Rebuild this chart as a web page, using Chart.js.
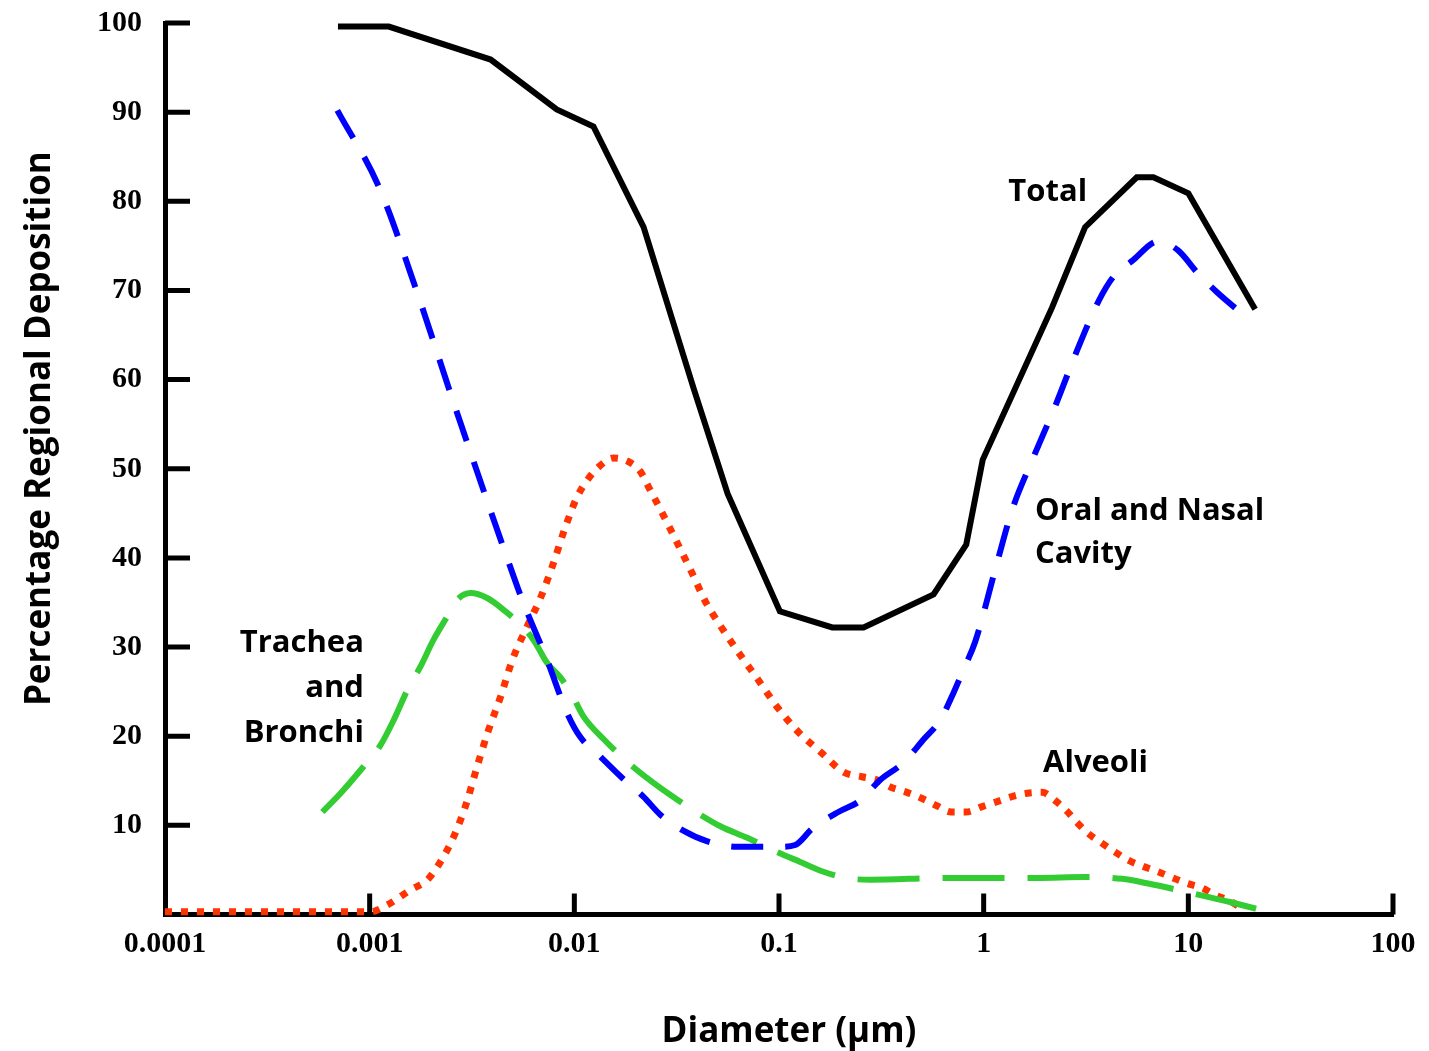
<!DOCTYPE html>
<html>
<head>
<meta charset="utf-8">
<script src="https://cdn.jsdelivr.net/npm/chart.js@4.4.1/dist/chart.umd.min.js"></script>
<style>
  html, body { margin: 0; padding: 0; background: #fff; }
  #wrap { width: 1429px; height: 1051px; position: relative; }
</style>
</head>
<body>
<div id="wrap"><canvas id="deposition"></canvas></div>
<script>
// regional deposition (%) against particle diameter (um)
const totalX = [0.0007, 0.00124, 0.0039, 0.0082, 0.0124, 0.0218, 0.0383, 0.0561, 0.101, 0.182, 0.259, 0.569, 0.822, 0.989, 2.16, 3.13, 5.6, 6.75, 10.0, 21.2];
const totalY = [99.6, 99.6, 95.9, 90.3, 88.4, 77.1, 59.0, 47.2, 34.0, 32.2, 32.2, 35.9, 41.5, 51.0, 68.1, 77.1, 82.7, 82.7, 80.9, 67.9];

const oralX = [0.000695, 0.00111, 0.00171, 0.00253, 0.00375, 0.00461, 0.00556, 0.00737, 0.00922, 0.0107, 0.0134, 0.0168, 0.0218, 0.0263, 0.0341, 0.0447, 0.0626, 0.1015, 0.120, 0.145, 0.195, 0.250, 0.312, 0.404, 0.507, 0.613, 0.710, 0.794, 0.909, 1.164, 1.378, 1.744, 2.234, 2.829, 3.624, 4.289, 5.37, 7.11, 8.91, 11.15, 13.81, 17.88, 20.5];
const oralY = [90.2, 81.6, 69.7, 57.9, 46.4, 40.5, 35.3, 28.5, 22.6, 19.9, 17.7, 15.5, 13.2, 11.2, 9.4, 8.2, 7.6, 7.6, 7.8, 9.6, 11.5, 12.8, 15.1, 17.0, 19.6, 21.8, 24.8, 27.4, 30.6, 39.5, 45.4, 51.2, 57.0, 63.0, 68.7, 71.5, 73.4, 75.5, 74.5, 71.9, 69.8, 67.6, 66.5];

const tracheaX = [0.000587, 0.000721, 0.000934, 0.00113, 0.00131, 0.00153, 0.00177, 0.00205, 0.00239, 0.00268, 0.00311, 0.00375, 0.00461, 0.00546, 0.00632, 0.00737, 0.00855, 0.00976, 0.0111, 0.0140, 0.0182, 0.0227, 0.0295, 0.0399, 0.0517, 0.0700, 0.0981, 0.127, 0.165, 0.211, 0.279, 0.664, 1.82, 3.13, 4.75, 6.28, 12.3, 16.0, 24.5];
const tracheaY = [11.5, 13.6, 16.6, 19.0, 21.8, 25.2, 27.8, 30.8, 33.4, 35.3, 36.05, 35.5, 34.0, 32.5, 30.8, 28.2, 26.6, 24.6, 22.2, 19.6, 17.1, 15.3, 13.4, 11.4, 9.9, 8.6, 7.0, 5.9, 4.8, 4.1, 3.9, 4.1, 4.1, 4.2, 4.0, 3.5, 2.0, 1.4, 0.3];

const alveoliX = [0.0001, 0.00101, 0.00122, 0.00158, 0.00191, 0.00214, 0.00235, 0.00257, 0.00278, 0.0030, 0.00335, 0.00381, 0.00436, 0.00497, 0.00588, 0.00683, 0.0079, 0.00905, 0.0103, 0.01155, 0.01315, 0.0155, 0.0184, 0.021, 0.023, 0.0249, 0.0272, 0.0318, 0.0376, 0.0437, 0.0527, 0.0647, 0.0792, 0.0978, 0.124, 0.162, 0.206, 0.254, 0.301, 0.350, 0.422, 0.507, 0.591, 0.694, 0.821, 0.983, 1.16, 1.36, 1.63, 1.93, 2.23, 2.55, 2.86, 3.24, 3.78, 4.39, 5.08, 6.01, 7.11, 8.42, 9.82, 11.6, 13.5, 16.3, 18.9];
const alveoliY = [0.3, 0.3, 1.07, 2.75, 3.87, 5.36, 6.9, 8.7, 10.6, 12.8, 16.6, 20.7, 24.4, 28.5, 32.3, 35.5, 39.4, 43.5, 46.8, 48.7, 50.2, 51.2, 50.8, 49.7, 48.0, 46.5, 44.8, 41.7, 38.3, 35.1, 32.1, 29.1, 26.3, 23.3, 20.5, 18.1, 16.0, 15.45, 15.1, 14.3, 13.7, 12.95, 12.2, 11.5, 11.5, 12.1, 12.65, 13.2, 13.6, 13.7, 12.8, 11.6, 10.3, 9.1, 8.0, 7.0, 6.1, 5.4, 4.8, 4.1, 3.5, 3.0, 2.2, 1.4, 0.4];

const xTickValues = [0.0001, 0.001, 0.01, 0.1, 1, 10, 100];
const xTickLabels = ['0.0001', '0.001', '0.01', '0.1', '1', '10', '100'];
const yTickValues = [10, 20, 30, 40, 50, 60, 70, 80, 90, 100];

function toPoints(xs, ys) {
  return xs.map((x, i) => ({ x: x, y: ys[i] }));
}

const tickFont = { family: 'Liberation Serif', size: 30, weight: 'bold' };

// curve names, anchored in data units (left or right edge, baseline)
const notes = [
  { text: 'Total', x: 1.32, y: 80.0, align: 'left' },
  { text: 'Oral and Nasal', x: 1.78, y: 44.2, align: 'left' },
  { text: 'Cavity', x: 1.78, y: 39.4, align: 'left' },
  { text: 'Alveoli', x: 1.95, y: 16.0, align: 'left' },
  { text: 'Trachea', x: 0.000937, y: 29.5, align: 'right' },
  { text: 'and', x: 0.000937, y: 24.4, align: 'right' },
  { text: 'Bronchi', x: 0.000937, y: 19.3, align: 'right' }
];

// inward tick marks, curve names and axis titles
const decorations = {
  id: 'decorations',
  afterDraw(chart) {
    const ctx = chart.ctx;
    const area = chart.chartArea;
    const xs = chart.scales.x;
    const ys = chart.scales.y;
    ctx.save();
    ctx.strokeStyle = '#000';
    ctx.lineWidth = 5;
    ctx.beginPath();
    yTickValues.forEach(v => {
      const py = ys.getPixelForValue(v);
      ctx.moveTo(area.left, py);
      ctx.lineTo(area.left + 25, py);
    });
    xTickValues.slice(1).forEach(v => {
      const px = xs.getPixelForValue(v);
      ctx.moveTo(px, area.bottom);
      ctx.lineTo(px, area.bottom - 21);
    });
    ctx.stroke();

    ctx.fillStyle = '#000';
    ctx.font = "bold 31px 'Open Sans'";
    ctx.textBaseline = 'alphabetic';
    notes.forEach(n => {
      ctx.textAlign = n.align;
      ctx.fillText(n.text, xs.getPixelForValue(n.x), ys.getPixelForValue(n.y));
    });

    ctx.textAlign = 'center';
    ctx.font = "bold 35px 'Open Sans'";
    ctx.fillText('Diameter (µm)', (area.left + area.right) / 2 + 10, area.bottom + 127);

    ctx.translate(50, area.top + (area.bottom - area.top) * 0.455);
    ctx.rotate(-Math.PI / 2);
    ctx.font = "bold 35px 'Open Sans'";
    ctx.fillText('Percentage Regional Deposition', 0, 0);
    ctx.restore();
  }
};

const lineDefaults = {
  pointRadius: 0,
  fill: false,
  clip: false,
  borderCapStyle: 'butt'
};

new Chart(document.getElementById('deposition'), {
  type: 'line',
  data: {
    datasets: [
      Object.assign({
        label: 'Total',
        data: toPoints(totalX, totalY),
        borderColor: '#000000',
        borderWidth: 6,
        tension: 0
      }, lineDefaults),
      Object.assign({
        label: 'Oral and Nasal Cavity',
        data: toPoints(oralX, oralY),
        borderColor: '#0000ff',
        borderWidth: 6,
        borderDash: [32, 22],
        cubicInterpolationMode: 'monotone'
      }, lineDefaults),
      Object.assign({
        label: 'Trachea and Bronchi',
        data: toPoints(tracheaX, tracheaY),
        borderColor: '#33cc33',
        borderWidth: 6,
        borderDash: [62, 23],
        cubicInterpolationMode: 'monotone'
      }, lineDefaults),
      Object.assign({
        label: 'Alveoli',
        data: toPoints(alveoliX, alveoliY),
        borderColor: '#ff3300',
        borderWidth: 7,
        borderDash: [7, 9],
        cubicInterpolationMode: 'monotone'
      }, lineDefaults)
    ]
  },
  plugins: [decorations],
  options: {
    responsive: true,
    maintainAspectRatio: false,
    animation: false,
    layout: { padding: { top: 23, right: 36, left: 0, bottom: 0 } },
    plugins: {
      legend: { display: false },
      tooltip: { enabled: false }
    },
    scales: {
      x: {
        type: 'logarithmic',
        min: 0.0001,
        max: 100,
        afterBuildTicks: function(scale) {
          scale.ticks = xTickValues.map(v => ({ value: v }));
        },
        afterFit: function(scale) {
          scale.height = 136.5;
        },
        grid: { display: false, drawTicks: false },
        border: { display: true, color: '#000', width: 5 },
        ticks: {
          autoSkip: false,
          maxRotation: 0,
          color: '#000',
          font: tickFont,
          padding: 12,
          callback: function(value, index) {
            return xTickLabels[index];
          }
        }
      },
      y: {
        min: 0,
        max: 100,
        afterBuildTicks: function(scale) {
          scale.ticks = yTickValues.map(v => ({ value: v }));
        },
        afterFit: function(scale) {
          scale.width = 165;
          // the 100 label may overhang the top; let layout padding decide
          scale.paddingTop = 0;
          scale.paddingBottom = 0;
        },
        grid: { display: false, drawTicks: false },
        border: { display: true, color: '#000', width: 5 },
        ticks: {
          color: '#000',
          font: tickFont,
          padding: 23,
          callback: function(value) {
            return String(value);
          }
        }
      }
    }
  }
});
</script>
</body>
</html>
